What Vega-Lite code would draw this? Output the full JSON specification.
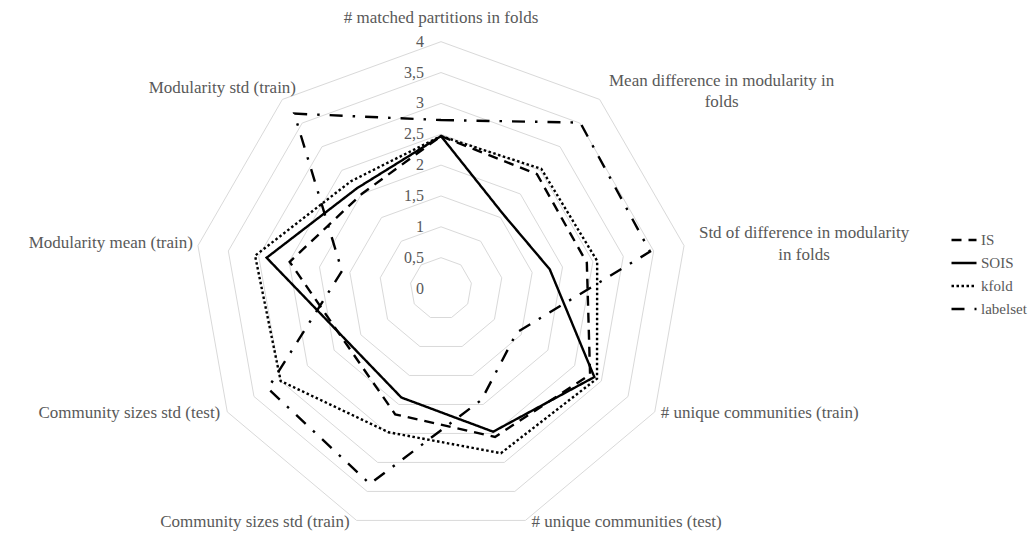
{
  "$schema": "https://vega.github.io/schema/vega-lite/v6.json",
  "width": 1032,
  "height": 538,
  "autosize": {"type": "none"},
  "padding": 0,
  "background": "white",
  "config": {"view": {"stroke": null}, "font": "Liberation Serif"},
  "datasets": {
    "axes": [
      {"i": 0, "label": "# matched partitions in folds"},
      {"i": 1, "label": "Mean difference in modularity  in\nfolds"},
      {"i": 2, "label": "Std of difference in modularity\nin folds"},
      {"i": 3, "label": "# unique communities (train)"},
      {"i": 4, "label": "# unique communities (test)"},
      {"i": 5, "label": "Community sizes std (train)"},
      {"i": 6, "label": "Community sizes std (test)"},
      {"i": 7, "label": "Modularity mean (train)"},
      {"i": 8, "label": "Modularity std (train)"}
    ],
    "levels": [
      {"level": 0, "label": "0", "i": [0, 1, 2, 3, 4, 5, 6, 7, 8]},
      {"level": 0.5, "label": "0,5", "i": [0, 1, 2, 3, 4, 5, 6, 7, 8]},
      {"level": 1, "label": "1", "i": [0, 1, 2, 3, 4, 5, 6, 7, 8]},
      {"level": 1.5, "label": "1,5", "i": [0, 1, 2, 3, 4, 5, 6, 7, 8]},
      {"level": 2, "label": "2", "i": [0, 1, 2, 3, 4, 5, 6, 7, 8]},
      {"level": 2.5, "label": "2,5", "i": [0, 1, 2, 3, 4, 5, 6, 7, 8]},
      {"level": 3, "label": "3", "i": [0, 1, 2, 3, 4, 5, 6, 7, 8]},
      {"level": 3.5, "label": "3,5", "i": [0, 1, 2, 3, 4, 5, 6, 7, 8]},
      {"level": 4, "label": "4", "i": [0, 1, 2, 3, 4, 5, 6, 7, 8]}
    ],
    "series": [
      {"series": "IS", "i": 0, "v": 2.47},
      {"series": "IS", "i": 1, "v": 2.42},
      {"series": "IS", "i": 2, "v": 2.40},
      {"series": "IS", "i": 3, "v": 2.79},
      {"series": "IS", "i": 4, "v": 2.56},
      {"series": "IS", "i": 5, "v": 2.17},
      {"series": "IS", "i": 6, "v": 1.78},
      {"series": "IS", "i": 7, "v": 2.49},
      {"series": "IS", "i": 8, "v": 2.0},
      {"series": "SOIS", "i": 0, "v": 2.47},
      {"series": "SOIS", "i": 1, "v": 1.57},
      {"series": "SOIS", "i": 2, "v": 1.79},
      {"series": "SOIS", "i": 3, "v": 2.87},
      {"series": "SOIS", "i": 4, "v": 2.47},
      {"series": "SOIS", "i": 5, "v": 1.88},
      {"series": "SOIS", "i": 6, "v": 1.74},
      {"series": "SOIS", "i": 7, "v": 2.87},
      {"series": "SOIS", "i": 8, "v": 2.12},
      {"series": "kfold", "i": 0, "v": 2.47},
      {"series": "kfold", "i": 1, "v": 2.53},
      {"series": "kfold", "i": 2, "v": 2.57},
      {"series": "kfold", "i": 3, "v": 2.92},
      {"series": "kfold", "i": 4, "v": 2.84},
      {"series": "kfold", "i": 5, "v": 2.48},
      {"series": "kfold", "i": 6, "v": 3.0},
      {"series": "kfold", "i": 7, "v": 3.06},
      {"series": "kfold", "i": 8, "v": 2.27},
      {"series": "labelset", "i": 0, "v": 2.73},
      {"series": "labelset", "i": 1, "v": 3.51},
      {"series": "labelset", "i": 2, "v": 3.44},
      {"series": "labelset", "i": 3, "v": 1.42},
      {"series": "labelset", "i": 4, "v": 1.92},
      {"series": "labelset", "i": 5, "v": 3.37},
      {"series": "labelset", "i": 6, "v": 3.24},
      {"series": "labelset", "i": 7, "v": 1.63},
      {"series": "labelset", "i": 8, "v": 3.70}
    ]
  },
  "encoding": {
    "x": {"field": "x", "type": "quantitative", "scale": {"domain": [-7.1475, 9.5786], "nice": false, "zero": false}, "axis": null},
    "y": {"field": "y", "type": "quantitative", "scale": {"domain": [-4.0438, 4.6759], "nice": false, "zero": false}, "axis": null}
  },
  "layer": [
    {
      "data": {"name": "levels"},
      "transform": [
        {"filter": "datum.level > 0"},
        {"flatten": ["i"]},
        {"calculate": "datum.level * sin(datum.i * 2 * PI / 9)", "as": "x"},
        {"calculate": "datum.level * cos(datum.i * 2 * PI / 9)", "as": "y"}
      ],
      "mark": {"type": "line", "interpolate": "linear-closed", "color": "#d9d9d9", "strokeWidth": 1},
      "encoding": {
        "detail": {"field": "level", "type": "nominal"},
        "order": {"field": "i", "type": "quantitative"}
      }
    },
    {
      "data": {"name": "series"},
      "transform": [
        {"calculate": "datum.v * sin(datum.i * 2 * PI / 9)", "as": "x"},
        {"calculate": "datum.v * cos(datum.i * 2 * PI / 9)", "as": "y"}
      ],
      "mark": {"type": "line", "interpolate": "linear-closed", "color": "black", "strokeWidth": 2.4},
      "encoding": {
        "order": {"field": "i", "type": "quantitative"},
        "strokeDash": {
          "field": "series", "type": "nominal",
          "scale": {"domain": ["IS", "SOIS", "kfold", "labelset"], "range": [[10, 7], [1, 0], [2.5, 2.5], [13, 10, 2.5, 10]]},
          "legend": {
            "title": null, "orient": "none", "legendX": 950, "legendY": 226,
            "symbolType": "stroke", "symbolSize": 625, "symbolStrokeWidth": 2.5, "symbolStrokeColor": "black",
            "labelFont": "Liberation Serif", "labelFontSize": 15, "labelColor": "#595959",
            "rowPadding": 1, "labelOffset": 3, "padding": 0
          }
        }
      }
    },
    {
      "data": {"name": "levels"},
      "transform": [
        {"calculate": "0", "as": "x"},
        {"calculate": "datum.level", "as": "y"}
      ],
      "mark": {"type": "text", "font": "Liberation Serif", "color": "#595959", "align": "right", "baseline": "middle", "dx": -17, "fontSize": 16},
      "encoding": {"text": {"field": "label"}}
    },
    {
      "data": {"name": "axes"},
      "transform": [
        {"filter": "datum.i == 0"},
        {"calculate": "4 * sin(datum.i * 2 * PI / 9)", "as": "x"},
        {"calculate": "4 * cos(datum.i * 2 * PI / 9)", "as": "y"}
      ],
      "mark": {"type": "text", "font": "Liberation Serif", "color": "#595959", "align": "center", "baseline": "middle", "dy": -23.5, "fontSize": 17},
      "encoding": {"text": {"field": "label"}}
    },
    {
      "data": {"name": "axes"},
      "transform": [
        {"filter": "datum.i == 1"},
        {"calculate": "4 * sin(datum.i * 2 * PI / 9)", "as": "x"},
        {"calculate": "4 * cos(datum.i * 2 * PI / 9)", "as": "y"}
      ],
      "mark": {"type": "text", "font": "Liberation Serif", "color": "#595959", "align": "center", "baseline": "middle", "dx": 122, "dy": -18, "fontSize": 17, "lineBreak": "\n", "lineHeight": 21},
      "encoding": {"text": {"field": "label"}}
    },
    {
      "data": {"name": "axes"},
      "transform": [
        {"filter": "datum.i == 2"},
        {"calculate": "4 * sin(datum.i * 2 * PI / 9)", "as": "x"},
        {"calculate": "4 * cos(datum.i * 2 * PI / 9)", "as": "y"}
      ],
      "mark": {"type": "text", "font": "Liberation Serif", "color": "#595959", "align": "center", "baseline": "middle", "dx": 120, "dy": -12.5, "fontSize": 17, "lineBreak": "\n", "lineHeight": 22},
      "encoding": {"text": {"field": "label"}}
    },
    {
      "data": {"name": "axes"},
      "transform": [
        {"filter": "datum.i == 3 || datum.i == 4"},
        {"calculate": "4 * sin(datum.i * 2 * PI / 9)", "as": "x"},
        {"calculate": "4 * cos(datum.i * 2 * PI / 9)", "as": "y"}
      ],
      "mark": {"type": "text", "font": "Liberation Serif", "color": "#595959", "align": "left", "baseline": "middle", "dx": 6, "dy": 1.5, "fontSize": 17},
      "encoding": {"text": {"field": "label"}}
    },
    {
      "data": {"name": "axes"},
      "transform": [
        {"filter": "datum.i == 5 || datum.i == 6"},
        {"calculate": "4 * sin(datum.i * 2 * PI / 9)", "as": "x"},
        {"calculate": "4 * cos(datum.i * 2 * PI / 9)", "as": "y"}
      ],
      "mark": {"type": "text", "font": "Liberation Serif", "color": "#595959", "align": "right", "baseline": "middle", "dx": -7, "dy": 1.5, "fontSize": 17},
      "encoding": {"text": {"field": "label"}}
    },
    {
      "data": {"name": "axes"},
      "transform": [
        {"filter": "datum.i == 7"},
        {"calculate": "4 * sin(datum.i * 2 * PI / 9)", "as": "x"},
        {"calculate": "4 * cos(datum.i * 2 * PI / 9)", "as": "y"}
      ],
      "mark": {"type": "text", "font": "Liberation Serif", "color": "#595959", "align": "right", "baseline": "middle", "dx": -5, "dy": -2.5, "fontSize": 17},
      "encoding": {"text": {"field": "label"}}
    },
    {
      "data": {"name": "axes"},
      "transform": [
        {"filter": "datum.i == 8"},
        {"calculate": "4 * sin(datum.i * 2 * PI / 9)", "as": "x"},
        {"calculate": "4 * cos(datum.i * 2 * PI / 9)", "as": "y"}
      ],
      "mark": {"type": "text", "font": "Liberation Serif", "color": "#595959", "align": "center", "baseline": "middle", "dx": -60, "dy": -11.5, "fontSize": 17},
      "encoding": {"text": {"field": "label"}}
    }
  ]
}
